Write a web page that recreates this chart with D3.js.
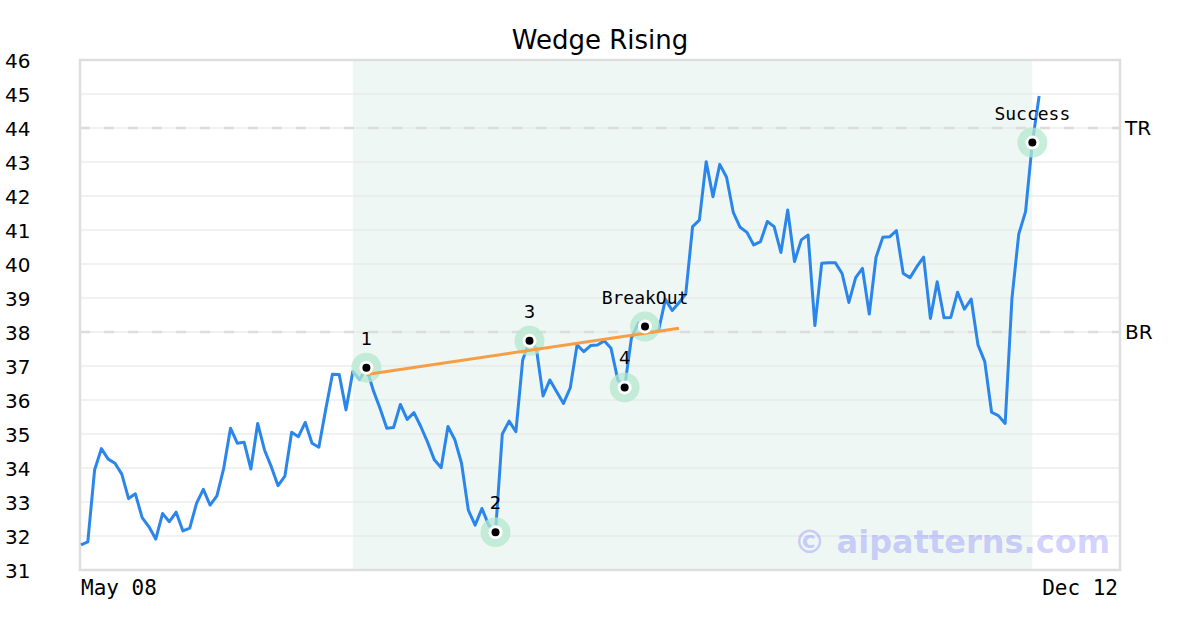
<!DOCTYPE html>
<html>
<head>
<meta charset="utf-8">
<script src="https://cdn.jsdelivr.net/npm/d3@7"></script>
<style>
  html, body { margin: 0; padding: 0; background: #ffffff; }
  svg { display: block; }
</style>
</head>
<body>
<svg id="chart" width="1200" height="630"></svg>
<script>
// ---- data ----
const title = "Wedge Rising";
const prices = [
  31.74, 31.83, 33.94, 34.57, 34.26, 34.14, 33.82, 33.10, 33.24, 32.54,
  32.27, 31.91, 32.66, 32.42, 32.70, 32.15, 32.23, 32.96, 33.37, 32.91,
  33.18, 33.99, 35.17, 34.73, 34.76, 33.97, 35.31, 34.53, 34.04, 33.48,
  33.76, 35.05, 34.92, 35.34, 34.73, 34.61, 35.71, 36.76, 36.75, 35.71,
  36.84, 36.60, 36.95, 36.29, 35.76, 35.17, 35.19, 35.87, 35.43, 35.63,
  35.22, 34.76, 34.24, 34.01, 35.22, 34.84, 34.14, 32.76, 32.32, 32.81,
  32.32, 32.11, 35.00, 35.38, 35.07, 37.18, 37.74, 37.52, 36.12, 36.59,
  36.24, 35.90, 36.36, 37.62, 37.42, 37.60, 37.62, 37.74, 37.52, 36.59,
  36.37, 37.82, 38.26, 38.16, 37.98, 38.05, 38.96, 38.63, 38.86, 39.12,
  41.10, 41.29, 43.01, 41.98, 42.93, 42.55, 41.51, 41.08, 40.93, 40.56,
  40.66, 41.25, 41.10, 40.34, 41.59, 40.07, 40.71, 40.85, 38.19, 40.02,
  40.04, 40.04, 39.72, 38.87, 39.60, 39.87, 38.53, 40.20, 40.79, 40.80,
  40.98, 39.72, 39.60, 39.92, 40.20, 38.40, 39.48, 38.42, 38.43, 39.17,
  38.67, 38.97, 37.62, 37.13, 35.64, 35.54, 35.31, 38.99, 40.88, 41.54,
  43.57, 44.94
];
const yTicks = [31, 32, 33, 34, 35, 36, 37, 38, 39, 40, 41, 42, 43, 44, 45, 46];
const xLabels = ["May 08", "Dec 12"];
const markerIdx = [42, 61, 66, 80, 83, 140];
const markerLabels = ["1", "2", "3", "4", "BreakOut", "Success"];
const wedgeIdx = [42, 88];
const wedgeVal = [36.75, 38.11];
const levelVals = [38, 44];
const levelLabels = ["BR", "TR"];
const shadeIdx = [40, 140];
const watermark = "© aipatterns.com";

// ---- layout ----
const L = 80, R = 1120, T = 60, B = 570;
const svg = d3.select("#chart");
const x = d3.scaleLinear().domain([0, 152.9]).range([81, 1120]);
const y = d3.scaleLinear().domain([31, 46]).range([B, T]);

// shaded pattern region
svg.append("rect")
  .attr("x", x(shadeIdx[0])).attr("y", T)
  .attr("width", x(shadeIdx[1]) - x(shadeIdx[0])).attr("height", B - T)
  .attr("fill", "#eff7f4");

// gridlines
svg.append("g").selectAll("line").data(yTicks.filter(d => d > 31 && d < 46)).join("line")
  .attr("x1", L).attr("x2", R)
  .attr("y1", d => y(d)).attr("y2", d => y(d))
  .attr("stroke", "#e3e3e3").attr("stroke-width", 1);

// level dashed lines
svg.append("g").selectAll("line").data(levelVals).join("line")
  .attr("x1", L).attr("x2", R)
  .attr("y1", d => y(d)).attr("y2", d => y(d))
  .attr("stroke", "#dcdcdc").attr("stroke-width", 2.5)
  .attr("stroke-dasharray", "10,14");

svg.append("g").selectAll("text").data(levelVals).join("text")
  .attr("x", 1125).attr("y", d => y(d) + 7)
  .attr("font-family", "DejaVu Sans").attr("font-size", 20).attr("fill", "#000")
  .text((d, i) => levelLabels[i]);

// border
svg.append("rect")
  .attr("x", L).attr("y", T).attr("width", R - L).attr("height", B - T)
  .attr("fill", "none").attr("stroke", "#dedede").attr("stroke-width", 2.5);

// y axis labels
const yAxis = d3.axisLeft(y).tickValues(yTicks).tickSize(0).tickPadding(0);
const yg = svg.append("g").attr("transform", "translate(5,0)").call(yAxis);
yg.select(".domain").remove();
yg.selectAll("text")
  .attr("text-anchor", "start").attr("x", 0).attr("dy", "0.35em")
  .attr("font-family", "DejaVu Sans").attr("font-size", 20).attr("fill", "#000");

// x labels
svg.append("text").attr("x", 81).attr("y", 595)
  .attr("font-family", "DejaVu Sans Mono").attr("font-size", 21).attr("fill", "#000")
  .text(xLabels[0]);
svg.append("text").attr("x", 1118).attr("y", 595).attr("text-anchor", "end")
  .attr("font-family", "DejaVu Sans Mono").attr("font-size", 21).attr("fill", "#000")
  .text(xLabels[1]);

// title
svg.append("text").attr("x", 600).attr("y", 49).attr("text-anchor", "middle")
  .attr("font-family", "DejaVu Sans").attr("font-size", 26).attr("fill", "#000")
  .text(title);

// watermark
svg.append("text").attr("x", 1110).attr("y", 553).attr("text-anchor", "end")
  .attr("font-family", "DejaVu Sans").attr("font-weight", "bold").attr("font-size", 32)
  .attr("fill", "#6464ff").attr("fill-opacity", 0.3)
  .text(watermark);

// price line
const line = d3.line().x((d, i) => x(i)).y(d => y(d));
svg.append("path").datum(prices)
  .attr("d", line).attr("fill", "none")
  .attr("stroke", "#2a86ea").attr("stroke-width", 3).attr("stroke-linejoin", "round");

// markers (halo)
const mg = svg.append("g");
mg.selectAll("circle.halo").data(markerIdx).join("circle").attr("class", "halo")
  .attr("cx", d => x(d)).attr("cy", d => y(prices[d])).attr("r", 15)
  .attr("fill", "#b4e8cf").attr("fill-opacity", 0.75);

// wedge line
svg.append("line")
  .attr("x1", x(wedgeIdx[0])).attr("y1", y(wedgeVal[0]))
  .attr("x2", x(wedgeIdx[1])).attr("y2", y(wedgeVal[1]))
  .attr("stroke", "#f99d45").attr("stroke-width", 3);

const mg2 = svg.append("g");
mg2.selectAll("circle.w").data(markerIdx).join("circle")
  .attr("cx", d => x(d)).attr("cy", d => y(prices[d])).attr("r", 7)
  .attr("fill", "#ffffff");
mg2.selectAll("circle.b").data(markerIdx).join("circle")
  .attr("cx", d => x(d)).attr("cy", d => y(prices[d])).attr("r", 4)
  .attr("fill", "#000000");

// marker labels
svg.append("g").selectAll("text").data(markerIdx).join("text")
  .attr("x", d => x(d)).attr("y", d => y(prices[d]) - 23)
  .attr("text-anchor", "middle")
  .attr("font-family", (d, i) => markerLabels[i].length > 1 ? "DejaVu Sans Mono" : "DejaVu Sans")
  .attr("font-size", 18).attr("fill", "#000")
  .text((d, i) => markerLabels[i]);
</script>
</body>
</html>
